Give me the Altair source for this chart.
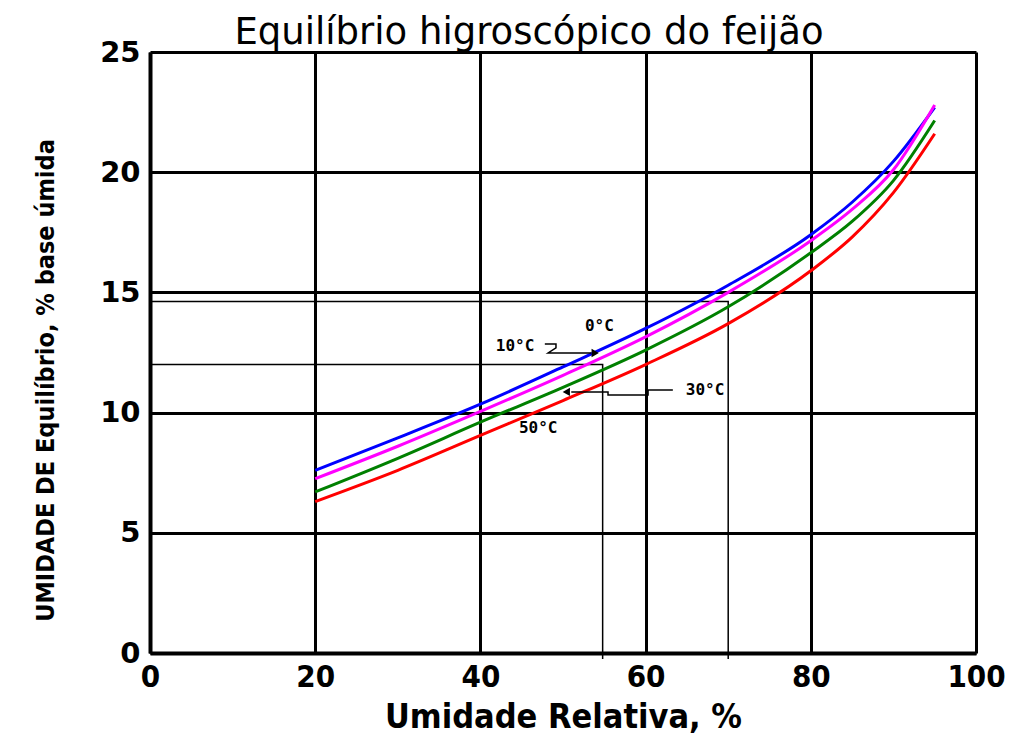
import altair as alt
import pandas as pd

# ---- data ----
rh = [20, 30, 40, 50, 60, 70, 80, 85, 90, 95]
ue_0c = [7.6, 8.95, 10.35, 11.9, 13.5, 15.3, 17.4, 18.75, 20.45, 22.7]
ue_10c = [7.25, 8.6, 10.05, 11.55, 13.15, 15.0, 17.15, 18.45, 20.1, 22.8]
ue_30c = [6.7, 8.1, 9.6, 11.05, 12.6, 14.4, 16.65, 17.95, 19.65, 22.15]
ue_50c = [6.3, 7.6, 9.05, 10.5, 12.0, 13.7, 15.9, 17.3, 19.15, 21.6]
series = ["0°C", "10°C", "30°C", "50°C"]
colors = ["#0000ff", "#ff00ff", "#008000", "#ff0000"]

x_ticks = [0, 20, 40, 60, 80, 100]
y_ticks = [0, 5, 10, 15, 20, 25]

# reading guides (thin black lines)
guide_x = [0, 54.8, 54.8, 0, 70, 70]
guide_y = [12.0, 12.0, -0.25, 14.62, 14.62, -0.25]
guide_id = ["a", "a", "a", "b", "b", "b"]

# labels of curves
lab_text = ["0°C", "10°C", "30°C", "50°C"]
lab_x = [54.4, 44.2, 67.2, 47.0]
lab_y = [13.6, 12.75, 10.94, 9.36]

# leader lines from labels to curves
lead_x = [47.8, 49.15, 49.15, 48.2, 53.4, 63.3, 60.3, 60.3, 55.45, 55.45, 51.0]
lead_y = [12.85, 12.85, 12.69, 12.48, 12.48, 10.94, 10.94, 10.73, 10.73, 10.86, 10.86]
lead_id = ["p10"] * 5 + ["p30"] * 6
arrow_x = [53.9, 50.4]
arrow_y = [12.48, 10.86]
arrow_shape = ["triangle-right", "triangle-left"]

# ---- tables ----
rows = []
for name, vals in zip(series, [ue_0c, ue_10c, ue_30c, ue_50c]):
    for x, y in zip(rh, vals):
        rows.append({"rh": x, "ue": y, "serie": name})
curves = pd.DataFrame(rows)
guides = pd.DataFrame({"x": guide_x, "y": guide_y, "g": guide_id,
                       "o": list(range(len(guide_x)))})
labels = pd.DataFrame({"x": lab_x, "y": lab_y, "t": lab_text})
leads = pd.DataFrame({"x": lead_x, "y": lead_y, "g": lead_id,
                      "o": list(range(len(lead_x)))})
arrows = pd.DataFrame({"x": arrow_x, "y": arrow_y, "s": arrow_shape})

xscale = alt.Scale(domain=[0, 100], nice=False)
yscale = alt.Scale(domain=[0, 25], nice=False)

xaxis = alt.Axis(values=x_ticks, title="Umidade Relativa, %", grid=True,
                 gridColor="black", gridWidth=3, gridOpacity=1,
                 domainColor="black", domainWidth=4, ticks=False,
                 labelFont="DejaVu Sans Condensed", labelFontWeight="bold",
                 labelFontSize=31, labelColor="black", labelPadding=9,
                 labelFlush=False, labelOverlap=False,
                 titleFont="DejaVu Sans Condensed", titleFontWeight="bold",
                 titleFontSize=34, titleColor="black", titleY=64,
                 titleBaseline="middle")
yaxis = alt.Axis(values=y_ticks, title="UMIDADE DE Equilíbrio, % base úmida",
                 grid=True, gridColor="black", gridWidth=3, gridOpacity=1,
                 domainColor="black", domainWidth=4, ticks=False,
                 labelFont="DejaVu Sans", labelFontWeight="bold",
                 labelFontSize=29, labelColor="black", labelPadding=10,
                 labelFlush=False, labelOverlap=False,
                 titleFont="DejaVu Sans Condensed", titleFontWeight="bold",
                 titleFontSize=25, titleColor="black", titleX=-105,
                 titleY=328, titleAngle=270, titleAlign="center",
                 titleBaseline="middle")

base = alt.Chart(curves)

lines = base.mark_line(strokeWidth=3, interpolate="monotone").encode(
    x=alt.X("rh:Q", scale=xscale, axis=xaxis),
    y=alt.Y("ue:Q", scale=yscale, axis=yaxis),
    color=alt.Color("serie:N", scale=alt.Scale(domain=series, range=colors),
                    legend=None),
)

guide_lines = alt.Chart(guides).mark_line(color="black", strokeWidth=1.5).encode(
    x=alt.X("x:Q", scale=xscale), y=alt.Y("y:Q", scale=yscale),
    detail="g:N", order="o:Q")

lead_lines = alt.Chart(leads).mark_line(color="black", strokeWidth=1.5).encode(
    x=alt.X("x:Q", scale=xscale), y=alt.Y("y:Q", scale=yscale),
    detail="g:N", order="o:Q")

arrow_pts = alt.Chart(arrows).mark_point(filled=True, color="black", size=70,
                                         opacity=1).encode(
    x=alt.X("x:Q", scale=xscale), y=alt.Y("y:Q", scale=yscale),
    shape=alt.Shape("s:N", scale=None))

texts = alt.Chart(labels).mark_text(font="DejaVu Sans Mono", fontWeight="bold",
                                    fontSize=16, color="black").encode(
    x=alt.X("x:Q", scale=xscale), y=alt.Y("y:Q", scale=yscale), text="t:N")

chart = alt.layer(guide_lines, lines, lead_lines, arrow_pts, texts).properties(
    width=826, height=601,
    padding={"left": 142, "top": 44, "right": 38, "bottom": 86},
    autosize=alt.AutoSizeParams(type="none"),
    title=alt.TitleParams("Equilíbrio  higroscópico do feijão",
                          font="DejaVu Sans", fontSize=37, fontWeight="normal",
                          color="black", anchor="middle", dx=-34, dy=26,
                          offset=12),
).configure_view(stroke="black", strokeWidth=4).configure(background="white")

chart.save("out.html", embed_options={"renderer": "svg", "actions": False})
